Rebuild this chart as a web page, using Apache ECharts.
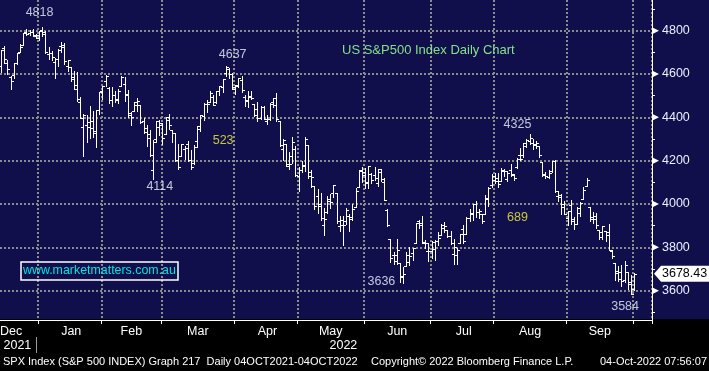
<!DOCTYPE html>
<html><head><meta charset="utf-8">
<script src="https://cdn.jsdelivr.net/npm/echarts@6/dist/echarts.min.js"></script>
<style>html,body{margin:0;padding:0;background:#000}#c{width:709px;height:371px}</style>
</head><body><div id="c"></div>
<script>
// ---------- DATA ----------
const dates = [
 '2021-12-15','2021-12-16','2021-12-17','2021-12-20','2021-12-21','2021-12-22','2021-12-23','2021-12-27','2021-12-28','2021-12-29','2021-12-30','2021-12-31',
 '2022-01-03','2022-01-04','2022-01-05','2022-01-06','2022-01-07','2022-01-10','2022-01-11','2022-01-12','2022-01-13','2022-01-14','2022-01-18','2022-01-19','2022-01-20','2022-01-21','2022-01-24','2022-01-25','2022-01-26','2022-01-27','2022-01-28','2022-01-31',
 '2022-02-01','2022-02-02','2022-02-03','2022-02-04','2022-02-07','2022-02-08','2022-02-09','2022-02-10','2022-02-11','2022-02-14','2022-02-15','2022-02-16','2022-02-17','2022-02-18','2022-02-22','2022-02-23','2022-02-24','2022-02-25','2022-02-28',
 '2022-03-01','2022-03-02','2022-03-03','2022-03-04','2022-03-07','2022-03-08','2022-03-09','2022-03-10','2022-03-11','2022-03-14','2022-03-15','2022-03-16','2022-03-17','2022-03-18','2022-03-21','2022-03-22','2022-03-23','2022-03-24','2022-03-25','2022-03-28','2022-03-29','2022-03-30','2022-03-31',
 '2022-04-01','2022-04-04','2022-04-05','2022-04-06','2022-04-07','2022-04-08','2022-04-11','2022-04-12','2022-04-13','2022-04-14','2022-04-18','2022-04-19','2022-04-20','2022-04-21','2022-04-22','2022-04-25','2022-04-26','2022-04-27','2022-04-28','2022-04-29',
 '2022-05-02','2022-05-03','2022-05-04','2022-05-05','2022-05-06','2022-05-09','2022-05-10','2022-05-11','2022-05-12','2022-05-13','2022-05-16','2022-05-17','2022-05-18','2022-05-19','2022-05-20','2022-05-23','2022-05-24','2022-05-25','2022-05-26','2022-05-27','2022-05-31',
 '2022-06-01','2022-06-02','2022-06-03','2022-06-06','2022-06-07','2022-06-08','2022-06-09','2022-06-10','2022-06-13','2022-06-14','2022-06-15','2022-06-16','2022-06-17','2022-06-21','2022-06-22','2022-06-23','2022-06-24','2022-06-27','2022-06-28','2022-06-29','2022-06-30',
 '2022-07-01','2022-07-05','2022-07-06','2022-07-07','2022-07-08','2022-07-11','2022-07-12','2022-07-13','2022-07-14','2022-07-15','2022-07-18','2022-07-19','2022-07-20','2022-07-21','2022-07-22','2022-07-25','2022-07-26','2022-07-27','2022-07-28','2022-07-29',
 '2022-08-01','2022-08-02','2022-08-03','2022-08-04','2022-08-05','2022-08-08','2022-08-09','2022-08-10','2022-08-11','2022-08-12','2022-08-15','2022-08-16','2022-08-17','2022-08-18','2022-08-19','2022-08-22','2022-08-23','2022-08-24','2022-08-25','2022-08-26','2022-08-29','2022-08-30','2022-08-31',
 '2022-09-01','2022-09-02','2022-09-06','2022-09-07','2022-09-08','2022-09-09','2022-09-12','2022-09-13','2022-09-14','2022-09-15','2022-09-16','2022-09-19','2022-09-20','2022-09-21','2022-09-22','2022-09-23','2022-09-26','2022-09-27','2022-09-28','2022-09-29','2022-09-30',
 '2022-10-03'
];
const open = [
 4636,4719,4652,4587,4594,4650,4703,4733,4795,4788,4795,4776,
 4779,4804,4787,4693,4698,4655,4669,4729,4733,4637,4632,4588,4548,4471,4356,4367,4380,4381,4336,4432,
 4520,4566,4535,4482,4505,4480,4547,4553,4507,4413,4430,4456,4456,4385,4332,4325,4155,4298,4354,
 4364,4322,4401,4342,4327,4202,4224,4253,4279,4202,4188,4289,4345,4407,4462,4469,4493,4470,4523,4541,4603,4624,4600,
 4541,4548,4573,4495,4475,4494,4462,4437,4398,4449,4385,4391,4473,4490,4385,4255,4279,4187,4222,4253,
 4130,4159,4181,4271,4129,4081,4035,3990,3904,3963,4013,4052,4052,3899,3928,3920,3943,3930,3985,4077,4151,
 4149,4096,4137,4135,4097,4148,4102,3974,3838,3764,3764,3728,3665,3715,3733,3775,3821,3920,3913,3825,3785,
 3781,3792,3831,3858,3889,3880,3851,3768,3764,3818,3883,3860,3935,3955,4000,3965,3953,3952,4027,4088,
 4112,4105,4108,4154,4116,4156,4134,4170,4227,4225,4269,4290,4281,4273,4267,4195,4135,4126,4154,4198,4035,4041,4000,
 3937,3995,3931,3910,3960,4023,4084,3986,3940,3932,3880,3849,3875,3871,3782,3727,3682,3686,3651,3687,3633,
 3609
];
const high = [
 4712,4731,4667,4592,4651,4698,4740,4791,4807,4805,4809,4787,
 4797,4819,4798,4725,4708,4673,4714,4749,4745,4666,4633,4612,4610,4495,4417,4411,4454,4429,4432,4516,
 4546,4595,4542,4539,4522,4531,4590,4588,4527,4427,4473,4490,4456,4395,4363,4340,4295,4385,4389,
 4375,4401,4416,4343,4327,4277,4278,4268,4292,4248,4271,4358,4412,4465,4481,4522,4501,4520,4546,4575,4637,4627,4603,
 4549,4583,4593,4504,4522,4521,4464,4472,4453,4453,4411,4465,4489,4513,4385,4299,4279,4240,4308,4270,
 4169,4200,4308,4271,4158,4081,4069,4050,3981,4039,4046,4090,4052,3946,3944,3982,3956,3999,4075,4158,4169,
 4166,4177,4143,4169,4164,4160,4120,3977,3838,3779,3838,3728,3708,3779,3802,3796,3913,3928,3946,3836,3818,
 3829,3832,3870,3910,3919,3880,3874,3839,3796,3863,3902,3939,3975,3999,4013,3975,3953,4040,4078,4140,
 4144,4141,4167,4162,4151,4187,4137,4211,4257,4280,4301,4325,4302,4293,4267,4196,4149,4156,4200,4204,4062,4045,4016,
 3970,4019,3942,3987,4010,4077,4119,3986,3961,3959,3880,3900,3877,3907,3790,3727,3716,3717,3736,3688,3672,
 3683
];
const low = [
 4611,4651,4598,4531,4584,4645,4703,4733,4780,4778,4775,4765,
 4758,4774,4699,4671,4663,4582,4638,4703,4645,4614,4568,4530,4477,4395,4223,4287,4305,4309,4265,4415,
 4483,4544,4465,4451,4471,4465,4547,4477,4401,4364,4430,4429,4374,4327,4268,4221,4114,4287,4317,
 4279,4322,4345,4285,4199,4162,4224,4209,4200,4162,4187,4262,4335,4390,4425,4469,4456,4466,4501,4517,4589,4581,4530,
 4507,4539,4515,4453,4450,4484,4408,4382,4393,4392,4370,4390,4448,4384,4267,4201,4175,4162,4188,4131,
 4062,4147,4151,4118,4077,3975,3957,3928,3859,3959,3983,4033,3913,3877,3811,3909,3876,3925,3985,4077,4101,
 4074,4074,4097,4109,4081,4108,4017,3900,3734,3724,3723,3640,3637,3715,3717,3743,3821,3889,3820,3799,3739,
 3753,3742,3809,3858,3873,3847,3815,3722,3721,3818,3818,3860,3924,3927,3938,3936,3911,3952,3993,4079,
 4097,4079,4108,4129,4107,4128,4113,4167,4201,4219,4262,4278,4253,4259,4218,4129,4118,4120,4147,4057,4013,3954,3954,
 3904,3906,3886,3906,3945,4023,4084,3922,3912,3888,3837,3839,3828,3789,3750,3648,3644,3624,3640,3610,3584,
 3604
];
const close = [
 4709,4668,4621,4568,4649,4697,4726,4791,4786,4793,4778,4766,
 4797,4794,4701,4696,4677,4670,4713,4726,4659,4663,4577,4533,4483,4398,4410,4357,4350,4327,4432,4516,
 4546,4590,4478,4501,4484,4522,4587,4504,4419,4401,4472,4475,4380,4349,4305,4226,4288,4385,4374,
 4306,4387,4363,4329,4201,4171,4278,4260,4204,4173,4262,4358,4412,4463,4461,4512,4456,4520,4543,4575,4632,4602,4530,
 4546,4583,4525,4481,4500,4488,4413,4397,4447,4392,4391,4463,4459,4394,4272,4297,4175,4183,4288,4132,
 4155,4175,4300,4147,4123,3991,4001,3935,3930,4024,4008,4089,3924,3901,3901,3974,3941,3979,4058,4158,4132,
 4101,4176,4109,4121,4161,4116,4018,3901,3750,3735,3790,3667,3675,3765,3760,3796,3912,3901,3821,3819,3785,
 3825,3831,3845,3903,3899,3854,3819,3801,3790,3863,3831,3937,3960,3999,3962,3967,3921,4024,4073,4130,
 4119,4091,4155,4152,4145,4140,4122,4210,4207,4280,4297,4305,4275,4284,4228,4138,4128,4141,4199,4058,4031,3986,3955,
 3967,3924,3908,3980,4006,4067,4110,3932,3946,3901,3873,3900,3856,3790,3758,3693,3655,3647,3719,3640,3586,
 3678.43
];
const padSlots = 5;                       // empty trading slots after the last bar
const yMajorTicks = [3600,3800,4000,4200,4400,4600,4800];
const yMinorTicks = [3500,3700,3900,4100,4300,4500,4700,4900];
const monthNames = ['Jan','Feb','Mar','Apr','May','Jun','Jul','Aug','Sep','Oct','Nov','Dec'];
const annoText  = ['4818','4637','523','4114','3636','4325','689','3584'];
const annoDate  = ['2022-01-03','2022-03-31','2022-03-28','2022-02-28','2022-06-08','2022-08-10','2022-08-10','2022-09-28'];
const annoValue = [4882,4692,4291,4079,3640,4369,3936,3529];
const annoKind  = ['peak','peak','move','peak','peak','peak','move','peak'];
const chartTitle = 'US S&P500 Index Daily Chart';
const siteText = 'www.marketmatters.com.au';
const footerLeft = 'SPX Index (S&P 500 INDEX) Graph 217  Daily 04OCT2021-04OCT2022';
const footerMid = 'Copyright\u00A9 2022 Bloomberg Finance L.P.';
const footerRight = '04-Oct-2022 07:56:07';

// ---------- BUILD ----------
const cats = dates.concat(new Array(padSlots).fill(''));
const lastCat = cats.length - 1;
const groups = [];
dates.forEach((d, i) => {
  const k = d.slice(0, 7);
  if (!groups.length || groups[groups.length - 1].k !== k) groups.push({k: k, s: i, n: 0});
  groups[groups.length - 1].n++;
});
const monthStart = new Set();
const monthLabelAt = {};
groups.forEach((g, gi) => {
  if (gi > 0) monthStart.add(g.s);
  const m = +g.k.slice(5) - 1;
  if (g.n > 2) monthLabelAt[gi === 0 ? g.s + 3 : g.s + Math.floor(g.n / 2)] = monthNames[m];
});
const yearStart = dates.findIndex(d => d.slice(0, 4) === '2022');
const yearLabelAt = {};
yearLabelAt[Math.floor((yearStart - 1) / 2)] = dates[0].slice(0, 4);
yearLabelAt[Math.floor((yearStart + cats.length - 1) / 2)] = dates[yearStart].slice(0, 4);

const ohlc = dates.map((d, i) => [i, open[i], close[i], low[i], high[i]]);

const NAVY = '#100e4b';
const GRID = '#8c8c8c';
const FONT = 'Liberation Sans, Arial, sans-serif';

function renderOHLC(params, api) {
  const idx = api.value(0);
  const pO = api.coord([idx, api.value(1)]);
  const pC = api.coord([idx, api.value(2)]);
  const pL = api.coord([idx, api.value(3)]);
  const pH = api.coord([idx, api.value(4)]);
  const c = Math.round(pH[0] - 0.5);
  const x = c + 0.5;
  const yH = Math.round(pH[1]), yL = Math.round(pL[1]);
  const yO = Math.round(pO[1]) + 0.5, yC = Math.round(pC[1]) + 0.5;
  const st = {stroke: '#ffffff', lineWidth: 1};
  return {type: 'group', children: [
    {type: 'line', shape: {x1: x, y1: yH, x2: x, y2: yL + 1}, style: st},
    {type: 'line', shape: {x1: c - 2, y1: yO, x2: c, y2: yO}, style: st},
    {type: 'line', shape: {x1: c + 1, y1: yC, x2: c + 3, y2: yC}, style: st}
  ]};
}

const chart = echarts.init(document.getElementById('c'), null, {renderer: 'canvas', width: 709, height: 371});
const option = {
  animation: false,
  backgroundColor: {type: 'linear', x: 0, y: 0, x2: 0, y2: 1, colorStops: [
    {offset: 0, color: NAVY}, {offset: 319.5 / 371, color: NAVY},
    {offset: 319.5 / 371, color: '#000'}, {offset: 1, color: '#000'}]},
  title: [
    {text: chartTitle, left: 342, top: 44, padding: 0,
     textStyle: {color: '#86e08a', fontSize: 13, fontWeight: 'normal', fontFamily: FONT}},
    {text: siteText, left: 21, top: 262, padding: [2, 2, 2, 2], borderColor: '#ffffff', borderWidth: 1.5,
     textStyle: {color: '#00e4e4', fontSize: 12.4, fontWeight: 'normal', fontFamily: FONT, lineHeight: 14}}
  ],
  grid: {left: 0, right: 57, top: 0, bottom: 51, outerBoundsMode: 'none', containLabel: false},
  xAxis: [{
    type: 'category', data: cats, boundaryGap: true, position: 'bottom',
    axisLine: {show: true, lineStyle: {color: '#ffffff', width: 1}},
    axisTick: {show: true, interval: (i) => monthStart.has(i), length: 4, lineStyle: {color: '#ffffff'}},
    axisLabel: {show: true, interval: (i) => monthLabelAt[i] !== undefined, formatter: (v, i) => monthLabelAt[i] || '',
      color: '#ffffff', fontSize: 12.5, fontFamily: FONT, margin: 5, hideOverlap: false},
    splitLine: {show: true, interval: (i) => monthStart.has(i), lineStyle: {color: GRID, width: 2, type: [2, 2]}}
  }, {
    type: 'category', data: cats, boundaryGap: true, position: 'bottom', offset: 17,
    axisLine: {show: false},
    axisTick: {show: true, alignWithLabel: true, interval: (i) => i === yearStart - 1, length: 16, lineStyle: {color: '#9a9a9a'}},
    axisLabel: {show: true, interval: (i) => yearLabelAt[i] !== undefined, formatter: (v, i) => yearLabelAt[i] || '',
      color: '#ffffff', fontSize: 12.5, fontFamily: FONT, margin: 2, hideOverlap: false},
    splitLine: {show: false}
  }],
  yAxis: [{
    type: 'value', position: 'right', min: 3464.8, max: 4941.7, scale: true,
    axisLine: {show: true, lineStyle: {color: '#ffffff', width: 1}},
    axisTick: {show: false, customValues: yMajorTicks},
    axisLabel: {show: true, customValues: yMajorTicks, margin: 10, formatter: (v) => String(v),
      color: '#e8f0ff', fontSize: 12.5, fontFamily: FONT},
    splitLine: {show: true, lineStyle: {color: GRID, width: 2, type: [2, 2]}}
  }, {
    type: 'value', position: 'right', min: 3464.8, max: 4941.7, scale: true,
    axisLine: {show: false},
    axisTick: {show: true, customValues: yMinorTicks, length: 3, lineStyle: {color: '#ffffff'}},
    axisLabel: {show: false},
    splitLine: {show: false}
  }],
  series: [{
    type: 'custom', name: 'SPX', xAxisIndex: 0, yAxisIndex: 0,
    renderItem: renderOHLC, data: ohlc, encode: {x: 0, y: [1, 2, 3, 4]}, clip: true, z: 5
  }, {
    type: 'scatter', xAxisIndex: 0, yAxisIndex: 0, symbolSize: 0, z: 6,
    data: annoText.map((t, i) => ({value: [annoDate[i], annoValue[i]], name: t,
      label: {color: annoKind[i] === 'move' ? '#f4f43a' : '#eef2ff'}})),
    label: {show: true, position: 'inside', formatter: (p) => p.name, fontSize: 12.5, fontFamily: FONT}
  }]
};
chart.setOption(option);

// axis-edge markers and last price tag, positioned through the axis scales
const axisX = chart.convertToPixel({xAxisIndex: 0}, lastCat) + 652 / cats.length / 2;
const lastClose = close[close.length - 1];
const py = chart.convertToPixel({yAxisIndex: 0}, lastClose);
const markers = yMajorTicks.map(v => {
  const y = chart.convertToPixel({yAxisIndex: 0}, v);
  return {type: 'polygon', shape: {points: [[axisX, y - 3.5], [axisX, y + 3.5], [axisX + 7, y]]},
          style: {fill: '#ffffff'}, z: 10};
});
const ax = axisX + 2;
chart.setOption({graphic: {elements: markers.concat([
  {type: 'polygon', shape: {points: [[ax, py], [ax + 7, py - 8], [709, py - 8], [709, py + 8], [ax + 7, py + 8]]},
   style: {fill: '#ffffff'}, z: 10},
  {type: 'text', x: ax + 8, y: py, style: {text: lastClose.toFixed(2), fill: '#000000', font: '12.5px ' + FONT, textVerticalAlign: 'middle'}, z: 11},
  {type: 'text', x: 3, y: 362, style: {text: footerLeft, fill: '#ffffff', font: '11px ' + FONT, textVerticalAlign: 'middle'}},
  {type: 'text', x: 371, y: 362, style: {text: footerMid, fill: '#ffffff', font: '11px ' + FONT, textVerticalAlign: 'middle'}},
  {type: 'text', x: 707, y: 362, style: {text: footerRight, fill: '#ffffff', font: '11px ' + FONT, textVerticalAlign: 'middle', textAlign: 'right'}}
])}});
</script>
</body></html>
